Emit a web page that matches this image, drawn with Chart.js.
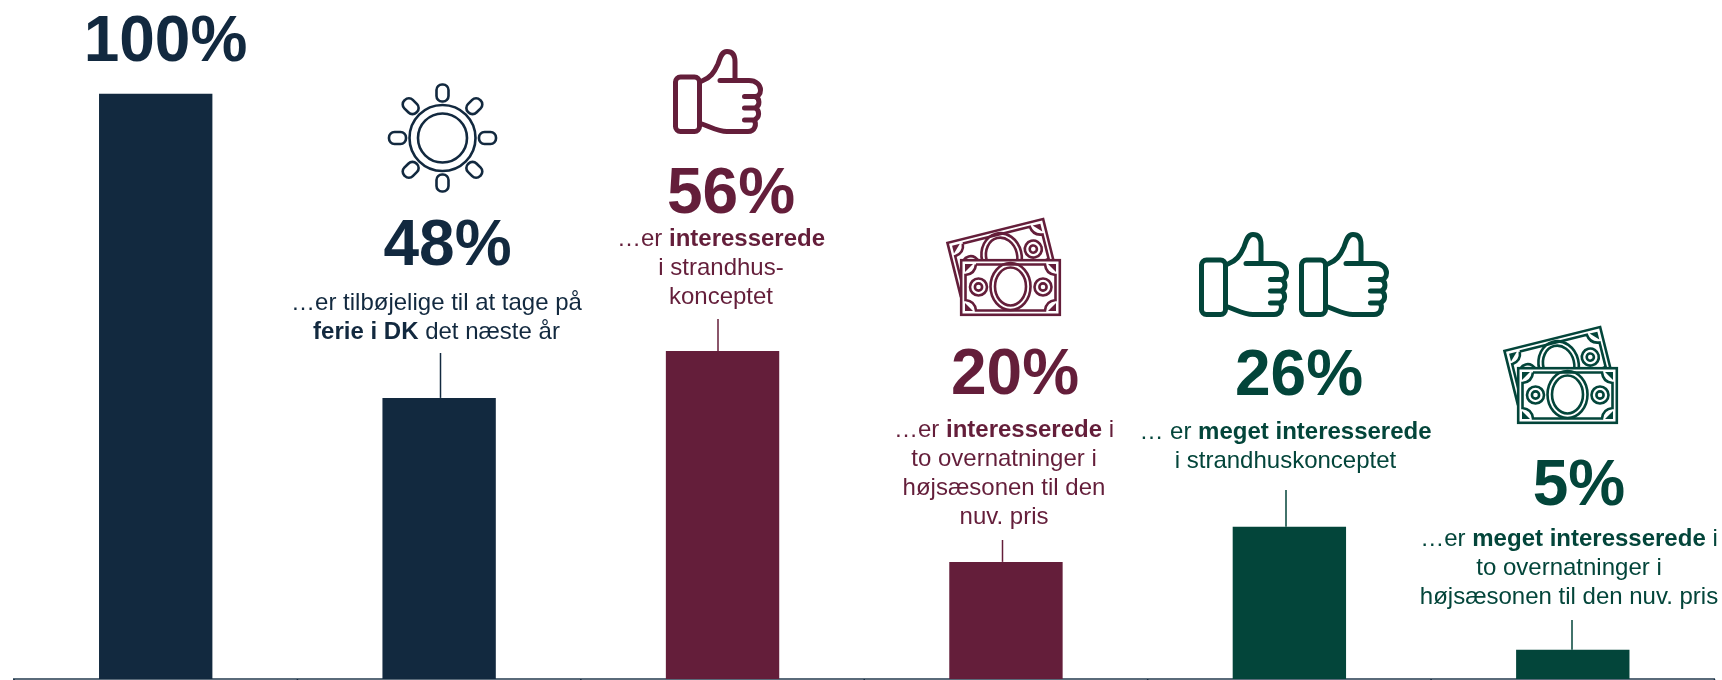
<!DOCTYPE html>
<html>
<head>
<meta charset="utf-8">
<title>Strandhus</title>
<script src="https://cdn.jsdelivr.net/npm/chart.js@4"></script>
<style>
	html, body { margin: 0; padding: 0; background: #fff; }
	#wrap { width: 1722px; height: 680px; }
</style>
</head>
<body>
<div id="wrap"><canvas id="myChart" width="1722" height="680"></canvas></div>
<script>
//+++++++++++++++++++++++ Start:data +++++++++++++++++++++++
var categories = ['Alle', 'Ferie i DK', 'Interesserede', 'Interesserede, højsæson', 'Meget interesserede', 'Meget interesserede, højsæson'];
var values = [100, 48, 56, 20, 26, 5];
var navy = '#12293f';
var maroon = '#641e3a';
var green = '#03453a';
var barColors = [navy, navy, maroon, maroon, green, green];

// text runs per line: [text, bold]
var captions = [
	[],
	[[['…er tilbøjelige til at tage på', false]], [['ferie i DK', true], [' det næste år', false]]],
	[[['…er ', false], ['interesserede', true]], [['i strandhus-', false]], [['konceptet', false]]],
	[[['…er ', false], ['interesserede', true], [' i', false]], [['to overnatninger i', false]], [['højsæsonen til den', false]], [['nuv. pris', false]]],
	[[['… er ', false], ['meget interesserede', true]], [['i strandhuskonceptet', false]]],
	[[['…er ', false], ['meget interesserede', true], [' i', false]], [['to overnatninger i', false]], [['højsæsonen til den nuv. pris', false]]]
];
//-------------------- End:data --------------------


//+++++++++++++++++++++++ Start:label layout +++++++++++++++++++++++
var percentX = [165.5, 447.5, 731, 1015, 1299, 1579];
var percentBase = [61, 265, 213, 394, 395, 505];
var captionX = [0, 436.5, 721, 1004, 1285.5, 1569];
var captionBase = [0, 310, 245.5, 437, 438.5, 546];
var leaderX = [0, 440.5, 718, 1002.5, 1286, 1572];
var leaderTop = [0, 353, 319, 540, 490, 620];
//-------------------- End:label layout --------------------


//+++++++++++++++++++++++ Start:icons +++++++++++++++++++++++
function capsule(ctx, cx, cy, angle) {
	ctx.save();
	ctx.translate(cx, cy);
	ctx.rotate(angle);
	ctx.beginPath();
	ctx.roundRect(-8.5, -6, 17, 12, 5.5);
	ctx.stroke();
	ctx.restore();
}

function drawSun(ctx, x, y, color) {
	ctx.save();
	ctx.strokeStyle = color;
	ctx.lineWidth = 2.6;
	ctx.beginPath();
	ctx.arc(x, y, 33, 0, Math.PI * 2);
	ctx.stroke();
	ctx.beginPath();
	ctx.arc(x, y, 24.5, 0, Math.PI * 2);
	ctx.stroke();
	for (var i = 0; i < 8; i++) {
		var a = i * Math.PI / 4;
		capsule(ctx, x + Math.cos(a) * 45, y + Math.sin(a) * 45, a);
	}
	ctx.restore();
}

function drawThumb(ctx, x, y, color) {
	ctx.save();
	ctx.translate(x, y);
	ctx.strokeStyle = color;
	ctx.lineWidth = 5;
	ctx.lineCap = 'round';
	ctx.lineJoin = 'round';
	// cuff
	ctx.beginPath();
	ctx.roundRect(2.5, 28, 24, 54.5, 5);
	ctx.stroke();
	// hand
	ctx.beginPath();
	ctx.moveTo(29, 32);
	ctx.bezierCurveTo(37, 29, 41, 24, 45, 15);
	ctx.bezierCurveTo(47, 10, 48, 2.5, 54, 2.5);
	ctx.bezierCurveTo(60, 2.5, 62, 7, 62, 13);
	ctx.lineTo(62, 31);
	ctx.moveTo(47, 31.5);
	ctx.lineTo(76, 31.5);
	ctx.bezierCurveTo(83, 31.5, 87.5, 36, 87.5, 41);
	ctx.bezierCurveTo(87.5, 45, 85, 47.5, 82, 47.5);
	ctx.lineTo(71.5, 47.5);
	ctx.moveTo(82, 47.5);
	ctx.bezierCurveTo(87, 49, 87.5, 57, 82, 59);
	ctx.lineTo(71.5, 59);
	ctx.moveTo(82, 59);
	ctx.bezierCurveTo(87, 61, 87, 69, 81, 71);
	ctx.lineTo(71.5, 71);
	ctx.moveTo(81, 71);
	ctx.bezierCurveTo(84, 75, 82, 82.5, 75, 82.5);
	ctx.lineTo(54, 82.5);
	ctx.bezierCurveTo(45, 82.5, 38, 78, 29, 75);
	ctx.stroke();
	ctx.restore();
}

// one bank note, 101 x 57, white fill so it can sit on top of another
function drawNote(ctx, color) {
	ctx.fillStyle = '#fff';
	ctx.strokeStyle = color;
	ctx.lineWidth = 2.6;
	ctx.fillRect(0, 0, 101, 57);
	ctx.strokeRect(1.2, 1.2, 98.6, 54.6);
	// frame with scooped corners
	ctx.beginPath();
	ctx.moveTo(16, 5.5);
	ctx.lineTo(85, 5.5);
	ctx.quadraticCurveTo(86, 15, 95.5, 16);
	ctx.lineTo(95.5, 41);
	ctx.quadraticCurveTo(86, 42, 85, 51.5);
	ctx.lineTo(16, 51.5);
	ctx.quadraticCurveTo(15, 42, 5.5, 41);
	ctx.lineTo(5.5, 16);
	ctx.quadraticCurveTo(15, 15, 16, 5.5);
	ctx.stroke();
	// corner wedges
	ctx.fillStyle = color;
	[[5, 5, 13, 5, 5, 13], [96, 5, 88, 5, 96, 13], [5, 52, 13, 52, 5, 44], [96, 52, 88, 52, 96, 44]].forEach(function (t) {
		ctx.beginPath();
		ctx.moveTo(t[0], t[1]);
		ctx.lineTo(t[2], t[3]);
		ctx.lineTo(t[4], t[5]);
		ctx.closePath();
		ctx.fill();
	});
	// centre oval
	ctx.beginPath();
	ctx.ellipse(50.5, 27.5, 20, 23.5, 0, 0, Math.PI * 2);
	ctx.stroke();
	ctx.beginPath();
	ctx.ellipse(50.5, 27.5, 15.5, 19, 0, 0, Math.PI * 2);
	ctx.stroke();
	// side dots
	[18.5, 83].forEach(function (cx) {
		ctx.beginPath();
		ctx.arc(cx, 28, 8.5, 0, Math.PI * 2);
		ctx.stroke();
		ctx.beginPath();
		ctx.arc(cx, 28, 3.6, 0, Math.PI * 2);
		ctx.stroke();
	});
}

function drawMoney(ctx, x, y, color) {
	ctx.save();
	ctx.translate(x, y);
	ctx.save();
	ctx.translate(-14, -17);
	ctx.rotate(-14 * Math.PI / 180);
	drawNote(ctx, color);
	ctx.restore();
	drawNote(ctx, color);
	ctx.restore();
}
//-------------------- End:icons --------------------


//+++++++++++++++++++++++ Start:Chartjs +++++++++++++++++++++++
var fontFamily = '"Liberation Sans", Arial, sans-serif';
var percentFont = 'bold 64px ' + fontFamily;
var captionSize = 24;
var captionLine = 29;

// centred line made of regular and bold runs
function drawRuns(ctx, runs, cx, y) {
	var total = 0;
	runs.forEach(function (r) {
		ctx.font = (r[1] ? 'bold ' : '') + captionSize + 'px ' + fontFamily;
		total += ctx.measureText(r[0]).width;
	});
	var px = cx - total / 2;
	runs.forEach(function (r) {
		ctx.font = (r[1] ? 'bold ' : '') + captionSize + 'px ' + fontFamily;
		ctx.fillText(r[0], px, y);
		px += ctx.measureText(r[0]).width;
	});
}

var annotations = {
	id: 'annotations',
	afterDatasetsDraw: function (chart) {
		var ctx = chart.ctx;
		var xScale = chart.scales.x;
		var yScale = chart.scales.y;
		ctx.save();
		ctx.textBaseline = 'alphabetic';
		values.forEach(function (v, i) {
			ctx.fillStyle = barColors[i];
			ctx.textAlign = 'center';
			ctx.font = percentFont;
			ctx.fillText(v + '%', percentX[i], percentBase[i]);

			ctx.textAlign = 'left';
			captions[i].forEach(function (runs, n) {
				drawRuns(ctx, runs, captionX[i], captionBase[i] + n * captionLine);
			});

			// leader from caption down to the bar
			if (leaderTop[i]) {
				ctx.strokeStyle = barColors[i];
				ctx.lineWidth = 1.5;
				ctx.beginPath();
				ctx.moveTo(leaderX[i], leaderTop[i]);
				ctx.lineTo(leaderX[i], yScale.getPixelForValue(v));
				ctx.stroke();
			}
		});

		// dark notches between categories, on top of the axis line
		ctx.strokeStyle = navy;
		ctx.lineWidth = 1.5;
		for (var t = 0; t <= categories.length; t++) {
			var tx = xScale.left + t * xScale.width / categories.length;
			ctx.beginPath();
			ctx.moveTo(tx, yScale.bottom);
			ctx.lineTo(tx, yScale.bottom + 1);
			ctx.stroke();
		}

		drawSun(ctx, 442.5, 138, navy);
		drawThumb(ctx, 673, 49, maroon);
		drawMoney(ctx, 960, 259, maroon);
		drawThumb(ctx, 1199, 232, green);
		drawThumb(ctx, 1299, 232, green);
		drawMoney(ctx, 1517, 367, green);
		ctx.restore();
	}
};

var ctx = document.getElementById('myChart').getContext('2d');
var chart = new Chart(ctx, {
	type: 'bar',
	data: {
		labels: categories,
		datasets: [{
			data: values,
			backgroundColor: barColors,
			categoryPercentage: 1,
			barPercentage: 0.4
		}]
	},
	options: {
		responsive: false,
		animation: false,
		devicePixelRatio: 1,
		layout: { padding: { left: 14, right: 7.5, top: 93.4, bottom: 0 } },
		plugins: {
			legend: { display: false },
			title: { display: false },
			tooltip: { enabled: false }
		},
		scales: {
			x: {
				border: { display: true, color: '#5a6b7a', width: 2 },
				grid: { drawOnChartArea: false, drawTicks: true, tickLength: 1, color: '#12293f' },
				ticks: { display: false }
			},
			y: {
				display: false,
				min: 0,
				max: 100
			}
		}
	},
	plugins: [annotations]
});
//-------------------- End:Chartjs --------------------
</script>
</body>
</html>
